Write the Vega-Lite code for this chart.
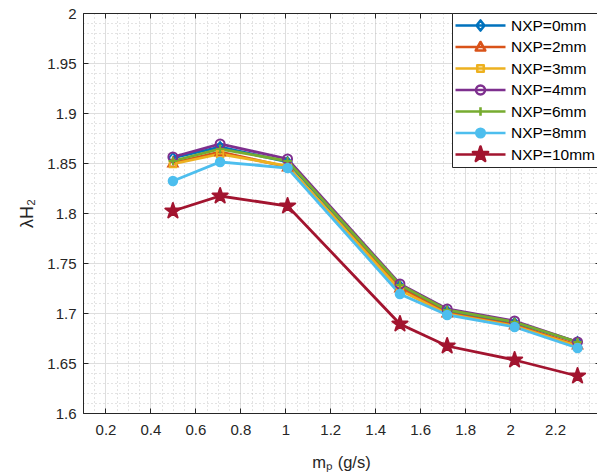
{
  "$schema": "https://vega.github.io/schema/vega-lite/v6.json",
  "autosize": {"type": "none"},
  "padding": {"left": 83, "top": 13, "right": 0, "bottom": 63},
  "width": 517,
  "height": 400,
  "background": "white",
  "config": {
    "font": "Liberation Sans",
    "view": {"stroke": "#262626", "strokeWidth": 1},
    "axis": {"labelFont": "Liberation Sans", "titleFont": "Liberation Sans", "labelColor": "#262626", "titleColor": "#262626", "domainColor": "#262626", "tickColor": "#262626", "labelFontSize": 15, "titleFontSize": 16.5, "titleFontWeight": "normal", "format": "~g"},
    "point": {"size": 2500, "opacity": 1, "strokeWidth": 2}
  },
  "data": {"values": [
    {"s": "NXP=0mm", "x": 0.5, "y": 1.855}, {"s": "NXP=0mm", "x": 0.71, "y": 1.866}, {"s": "NXP=0mm", "x": 1.01, "y": 1.851}, {"s": "NXP=0mm", "x": 1.51, "y": 1.727}, {"s": "NXP=0mm", "x": 1.72, "y": 1.702}, {"s": "NXP=0mm", "x": 2.02, "y": 1.690}, {"s": "NXP=0mm", "x": 2.3, "y": 1.671},
    {"s": "NXP=2mm", "x": 0.5, "y": 1.850}, {"s": "NXP=2mm", "x": 0.71, "y": 1.861}, {"s": "NXP=2mm", "x": 1.01, "y": 1.846}, {"s": "NXP=2mm", "x": 1.51, "y": 1.725}, {"s": "NXP=2mm", "x": 1.72, "y": 1.700}, {"s": "NXP=2mm", "x": 2.02, "y": 1.688}, {"s": "NXP=2mm", "x": 2.3, "y": 1.668},
    {"s": "NXP=3mm", "x": 0.5, "y": 1.849}, {"s": "NXP=3mm", "x": 0.71, "y": 1.859}, {"s": "NXP=3mm", "x": 1.01, "y": 1.847}, {"s": "NXP=3mm", "x": 1.51, "y": 1.723}, {"s": "NXP=3mm", "x": 1.72, "y": 1.699}, {"s": "NXP=3mm", "x": 2.02, "y": 1.687}, {"s": "NXP=3mm", "x": 2.3, "y": 1.667},
    {"s": "NXP=4mm", "x": 0.5, "y": 1.856}, {"s": "NXP=4mm", "x": 0.71, "y": 1.869}, {"s": "NXP=4mm", "x": 1.01, "y": 1.854}, {"s": "NXP=4mm", "x": 1.51, "y": 1.729}, {"s": "NXP=4mm", "x": 1.72, "y": 1.704}, {"s": "NXP=4mm", "x": 2.02, "y": 1.692}, {"s": "NXP=4mm", "x": 2.3, "y": 1.671},
    {"s": "NXP=6mm", "x": 0.5, "y": 1.852}, {"s": "NXP=6mm", "x": 0.71, "y": 1.864}, {"s": "NXP=6mm", "x": 1.01, "y": 1.852}, {"s": "NXP=6mm", "x": 1.51, "y": 1.728}, {"s": "NXP=6mm", "x": 1.72, "y": 1.703}, {"s": "NXP=6mm", "x": 2.02, "y": 1.691}, {"s": "NXP=6mm", "x": 2.3, "y": 1.671},
    {"s": "NXP=8mm", "x": 0.5, "y": 1.832}, {"s": "NXP=8mm", "x": 0.71, "y": 1.851}, {"s": "NXP=8mm", "x": 1.01, "y": 1.845}, {"s": "NXP=8mm", "x": 1.51, "y": 1.719}, {"s": "NXP=8mm", "x": 1.72, "y": 1.698}, {"s": "NXP=8mm", "x": 2.02, "y": 1.686}, {"s": "NXP=8mm", "x": 2.3, "y": 1.665},
    {"s": "NXP=10mm", "x": 0.5, "y": 1.802}, {"s": "NXP=10mm", "x": 0.71, "y": 1.817}, {"s": "NXP=10mm", "x": 1.01, "y": 1.807}, {"s": "NXP=10mm", "x": 1.51, "y": 1.689}, {"s": "NXP=10mm", "x": 1.72, "y": 1.667}, {"s": "NXP=10mm", "x": 2.02, "y": 1.653}, {"s": "NXP=10mm", "x": 2.3, "y": 1.637}
  ]},
  "layer": [
    {
      "mark": {"type": "line", "strokeOpacity": 0},
      "encoding": {
        "x": {"field": "x", "type": "quantitative", "scale": {"domain": [0.1, 2.4], "nice": false, "zero": false},
          "axis": {"orient": "bottom", "title": null, "labels": false, "ticks": false, "domain": false, "grid": true, "gridDash": [1, 3], "gridColor": "#b8b8b8", "gridWidth": 0.8,
            "values": [0.15, 0.25, 0.3, 0.35, 0.45, 0.5, 0.55, 0.65, 0.7, 0.75, 0.85, 0.9, 0.95, 1.05, 1.1, 1.15, 1.25, 1.3, 1.35, 1.45, 1.5, 1.55, 1.65, 1.7, 1.75, 1.85, 1.9, 1.95, 2.05, 2.1, 2.15, 2.25, 2.3, 2.35]}},
        "y": {"field": "y", "type": "quantitative", "scale": {"domain": [1.6, 2.0], "nice": false, "zero": false},
          "axis": {"orient": "left", "title": null, "labels": false, "ticks": false, "domain": false, "grid": true, "gridDash": [1, 3], "gridColor": "#b8b8b8", "gridWidth": 0.8,
            "values": [1.61, 1.62, 1.63, 1.64, 1.66, 1.67, 1.68, 1.69, 1.71, 1.72, 1.73, 1.74, 1.76, 1.77, 1.78, 1.79, 1.81, 1.82, 1.83, 1.84, 1.86, 1.87, 1.88, 1.89, 1.91, 1.92, 1.93, 1.94, 1.96, 1.97, 1.98, 1.99]}},
        "detail": {"field": "s"}
      }
    },
    {
      "mark": {"type": "line", "strokeWidth": 2.8},
      "encoding": {
        "x": {"field": "x", "type": "quantitative",
          "axis": {"orient": "bottom", "title": "mₚ (g/s)", "values": [0.2, 0.4, 0.6, 0.8, 1, 1.2, 1.4, 1.6, 1.8, 2, 2.2], "grid": true, "gridColor": "#dedede", "gridWidth": 1, "tickSize": -5, "labelPadding": 14, "titleX": 258, "titleY": 49, "titleBaseline": "middle", "titleAlign": "center"}},
        "y": {"field": "y", "type": "quantitative",
          "axis": {"orient": "left", "title": "λH₂", "values": [1.6, 1.65, 1.7, 1.75, 1.8, 1.85, 1.9, 1.95, 2.0], "grid": true, "gridColor": "#dedede", "gridWidth": 1, "tickSize": -5, "labelPadding": 12, "titleX": -56, "titleY": 200, "titleAngle": -90, "titleBaseline": "middle", "titleAlign": "center", "titleFontSize": 18}},
        "color": {"field": "s", "type": "nominal",
          "scale": {"domain": ["NXP=0mm", "NXP=2mm", "NXP=3mm", "NXP=4mm", "NXP=6mm", "NXP=8mm", "NXP=10mm"], "range": ["#0072BD", "#D95319", "#EDB120", "#7E2F8E", "#77AC30", "#4DBEEE", "#A2142F"]},
          "legend": {"orient": "none", "legendX": 369, "legendY": 0, "title": null, "fillColor": "white", "strokeColor": "#262626", "padding": 2, "cornerRadius": 0,
            "symbolSize": 2500, "clipHeight": 21, "rowPadding": 0.5, "labelFontSize": 15.5, "labelFont": "Liberation Sans", "labelColor": "black", "labelOffset": 4, "symbolStrokeWidth": 2.6,
            "encode": {"symbols": {"update": {
              "shape": {"signal": "datum.value === 'NXP=0mm' ? 'M-1,0L1,0M0,-0.2L0.16,0L0,0.2L-0.16,0Z' : datum.value === 'NXP=2mm' ? 'M-1,0L1,0M0,-0.2L0.19,0.14L-0.19,0.14Z' : datum.value === 'NXP=3mm' ? 'M-1,0L1,0M-0.13,-0.13L0.13,-0.13L0.13,0.13L-0.13,0.13Z' : datum.value === 'NXP=4mm' ? 'M-1,0L1,0M0.18,0A0.18,0.18 0 1 1 -0.18,0A0.18,0.18 0 1 1 0.18,0Z' : datum.value === 'NXP=6mm' ? 'M-1,0L1,0M0,-0.17L0,0.17M-0.17,0L0.17,0' : datum.value === 'NXP=8mm' ? 'M-1,0L1,0M0.17,0A0.17,0.17 0 1 1 -0.17,0A0.17,0.17 0 1 1 0.17,0Z' : 'M-1,0L1,0M0,-0.32L0.0717,-0.0987L0.3043,-0.0989L0.116,0.0377L0.1881,0.2589L0,0.122L-0.1881,0.2589L-0.116,0.0377L-0.3043,-0.0989L-0.0717,-0.0987Z'"},
              "fill": {"signal": "datum.value === 'NXP=8mm' ? '#4DBEEE' : datum.value === 'NXP=10mm' ? '#A2142F' : 'transparent'"},
              "size": {"value": 2500},
              "strokeWidth": {"value": 2.6},
              "strokeJoin": {"value": "round"},
              "opacity": {"value": 1}
            }}}}}
      }
    },
    {
      "transform": [{"filter": "datum.s === 'NXP=0mm'"}],
      "mark": {"type": "point", "filled": false, "stroke": "#0072BD", "shape": "M0,-0.2L0.16,0L0,0.2L-0.16,0Z"},
      "encoding": {
        "x": {"field": "x", "type": "quantitative",
          "axis": {"orient": "top", "title": null, "labels": false, "grid": false, "tickSize": -5, "values": [0.2, 0.4, 0.6, 0.8, 1, 1.2, 1.4, 1.6, 1.8, 2, 2.2]}},
        "y": {"field": "y", "type": "quantitative",
          "axis": {"orient": "right", "title": null, "labels": false, "grid": false, "tickSize": -5, "values": [1.6, 1.65, 1.7, 1.75, 1.8, 1.85, 1.9, 1.95, 2.0]}}
      }
    },
    {
      "transform": [{"filter": "datum.s === 'NXP=2mm'"}],
      "mark": {"type": "point", "filled": false, "stroke": "#D95319", "shape": "M0,-0.2L0.19,0.14L-0.19,0.14Z"},
      "encoding": {"x": {"field": "x", "type": "quantitative", "axis": null}, "y": {"field": "y", "type": "quantitative", "axis": null}}
    },
    {
      "transform": [{"filter": "datum.s === 'NXP=3mm'"}],
      "mark": {"type": "point", "filled": false, "stroke": "#EDB120", "shape": "M-0.13,-0.13L0.13,-0.13L0.13,0.13L-0.13,0.13Z"},
      "encoding": {"x": {"field": "x", "type": "quantitative", "axis": null}, "y": {"field": "y", "type": "quantitative", "axis": null}}
    },
    {
      "transform": [{"filter": "datum.s === 'NXP=4mm'"}],
      "mark": {"type": "point", "filled": false, "stroke": "#7E2F8E", "shape": "M0.18,0A0.18,0.18 0 1 1 -0.18,0A0.18,0.18 0 1 1 0.18,0Z"},
      "encoding": {"x": {"field": "x", "type": "quantitative", "axis": null}, "y": {"field": "y", "type": "quantitative", "axis": null}}
    },
    {
      "transform": [{"filter": "datum.s === 'NXP=6mm'"}],
      "mark": {"type": "point", "filled": false, "stroke": "#77AC30", "shape": "M0,-0.17L0,0.17M-0.17,0L0.17,0"},
      "encoding": {"x": {"field": "x", "type": "quantitative", "axis": null}, "y": {"field": "y", "type": "quantitative", "axis": null}}
    },
    {
      "transform": [{"filter": "datum.s === 'NXP=8mm'"}],
      "mark": {"type": "point", "filled": true, "fill": "#4DBEEE", "stroke": "#4DBEEE", "shape": "M0.17,0A0.17,0.17 0 1 1 -0.17,0A0.17,0.17 0 1 1 0.17,0Z"},
      "encoding": {"x": {"field": "x", "type": "quantitative", "axis": null}, "y": {"field": "y", "type": "quantitative", "axis": null}}
    },
    {
      "transform": [{"filter": "datum.s === 'NXP=10mm'"}],
      "mark": {"type": "point", "filled": true, "fill": "#A2142F", "stroke": "#A2142F", "strokeJoin": "round", "shape": "M0,-0.32L0.0717,-0.0987L0.3043,-0.0989L0.116,0.0377L0.1881,0.2589L0,0.122L-0.1881,0.2589L-0.116,0.0377L-0.3043,-0.0989L-0.0717,-0.0987Z"},
      "encoding": {"x": {"field": "x", "type": "quantitative", "axis": null}, "y": {"field": "y", "type": "quantitative", "axis": null}}
    }
  ],
  "resolve": {"axis": {"x": "independent", "y": "independent"}}
}
